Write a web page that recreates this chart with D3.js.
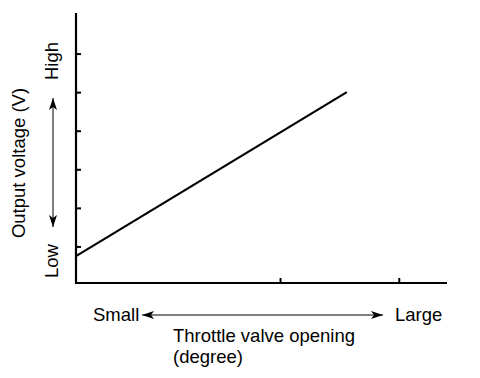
<!DOCTYPE html>
<html>
<head>
<meta charset="utf-8">
<script src="https://cdn.jsdelivr.net/npm/d3@7"></script>
<style>
  body { margin: 0; background: #fff; }
  text { font-family: "Liberation Sans", Arial, sans-serif; font-size: 18.5px; fill: #000; }
</style>
</head>
<body>
<div id="visual"></div>
<script>
// chart data
const opening = [0, 73];            // throttle opening (arbitrary units)
const voltage = [0.75, 5];          // output voltage (arbitrary units)
const yTicks = [1, 2, 3, 4, 5, 6];
const xTicks = [55, 87];
const yTitle = "Output voltage (V)";
const yEnds = ["Low", "High"];
const xTitle = ["Throttle valve opening", "(degree)"];
const xEnds = ["Small", "Large"];

const data = opening.map((o, i) => ({ x: o, y: voltage[i] }));

const width = 480, height = 378;

const svg = d3.select("#visual")
    .append("svg")
    .attr("width", width)
    .attr("height", height);

// scales
const x = d3.scaleLinear().domain([0, 100]).range([76, 447]);
const y = d3.scaleLinear().domain([0, 7]).range([285, 15]);

// arrowhead marker
const defs = svg.append("defs");
defs.append("marker")
    .attr("id", "head")
    .attr("viewBox", "0 0 12 8")
    .attr("refX", 12)
    .attr("refY", 4)
    .attr("markerWidth", 12)
    .attr("markerHeight", 8)
    .attr("markerUnits", "userSpaceOnUse")
    .attr("orient", "auto-start-reverse")
    .append("path")
    .attr("d", "M0,0 L12,4 L0,8 L3,4 Z")
    .attr("fill", "#000");

// y axis (ticks point inward)
const yAxis = svg.append("g")
    .attr("transform", "translate(" + x(0) + ",0)")
    .call(d3.axisRight(y).tickValues(yTicks).tickSize(5).tickFormat(""));
yAxis.select(".domain").remove();
yAxis.selectAll("line").attr("stroke", "#000").attr("stroke-width", 2);

// x axis (ticks point up)
const xAxis = svg.append("g")
    .attr("transform", "translate(0," + 283 + ")")
    .call(d3.axisTop(x).tickValues(xTicks).tickSize(5).tickFormat(""));
xAxis.select(".domain").remove();
xAxis.selectAll("line").attr("stroke", "#000").attr("stroke-width", 2);

// axis lines
svg.append("path")
    .attr("d", "M" + x(0) + "," + 13 + " V" + 283 + " H" + x(100))
    .attr("fill", "none")
    .attr("stroke", "#000")
    .attr("stroke-width", 2.2);

// the line
const line = d3.line()
    .x(d => x(d.x))
    .y(d => y(d.y));

svg.append("path")
    .datum(data)
    .attr("fill", "none")
    .attr("stroke", "#000")
    .attr("stroke-width", 2.2)
    .attr("d", line);

// y title
svg.append("text")
    .attr("transform", "translate(25,163) rotate(-90)")
    .attr("text-anchor", "middle")
    .text(yTitle);

// Low / High
svg.append("text")
    .attr("transform", "translate(58,261) rotate(-90)")
    .attr("text-anchor", "middle")
    .text(yEnds[0]);
svg.append("text")
    .attr("transform", "translate(58,61) rotate(-90)")
    .attr("text-anchor", "middle")
    .text(yEnds[1]);

// vertical double arrow
svg.append("line")
    .attr("x1", 53).attr("y1", 98)
    .attr("x2", 53).attr("y2", 227)
    .attr("stroke", "#000")
    .attr("stroke-width", 1)
    .attr("marker-start", "url(#head)")
    .attr("marker-end", "url(#head)");

// Small / Large
svg.append("text")
    .attr("x", 93).attr("y", 321)
    .text(xEnds[0]);
svg.append("text")
    .attr("x", 395).attr("y", 321)
    .text(xEnds[1]);

// horizontal double arrow
svg.append("line")
    .attr("x1", 142).attr("y1", 315)
    .attr("x2", 383).attr("y2", 315)
    .attr("stroke", "#000")
    .attr("stroke-width", 1.2)
    .attr("marker-start", "url(#head)")
    .attr("marker-end", "url(#head)");

// x title
svg.append("text")
    .attr("x", 173).attr("y", 342)
    .text(xTitle[0]);
svg.append("text")
    .attr("x", 173).attr("y", 363)
    .text(xTitle[1]);
</script>
</body>
</html>
